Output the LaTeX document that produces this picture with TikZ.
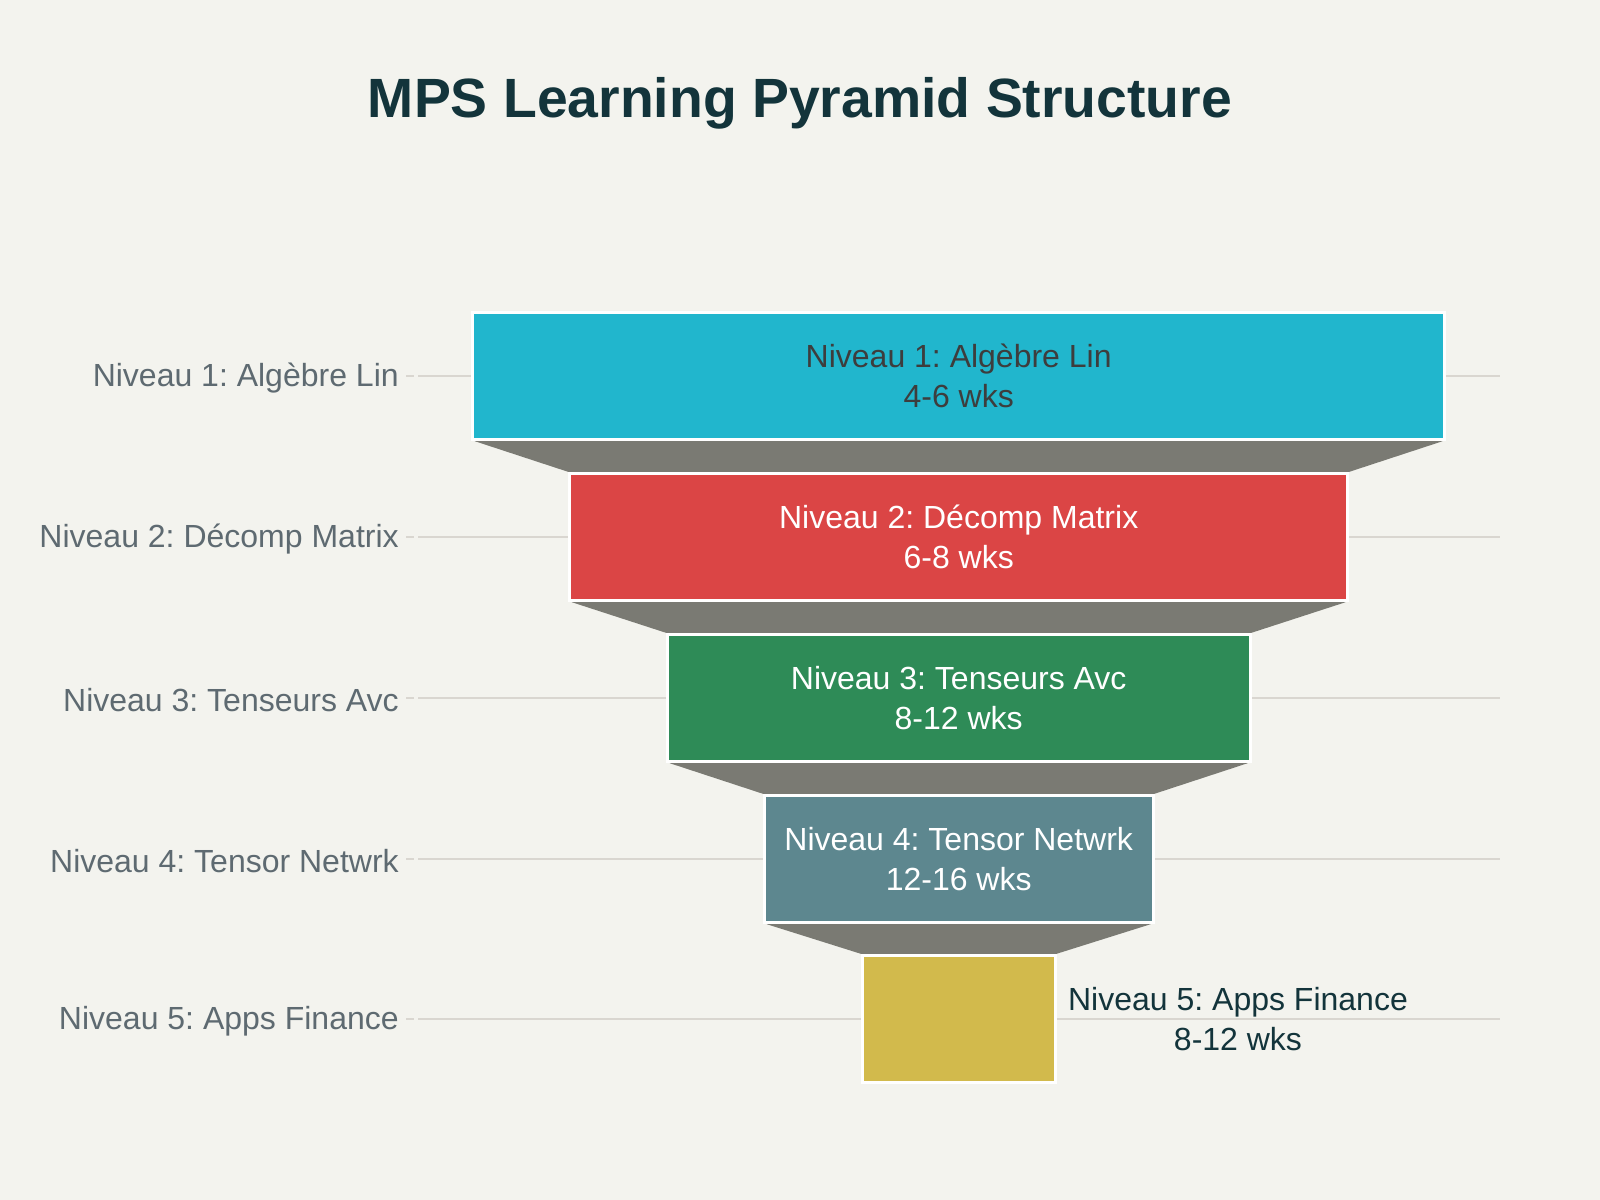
\documentclass[tikz,border=0pt]{standalone}
\usepackage{fontspec}
\setmainfont{Liberation Sans}
\frenchspacing
\pgfdeclarelayer{background}
\pgfsetlayers{background,main}
\definecolor{bgc}{HTML}{F3F3EE}
\definecolor{titlec}{HTML}{13343B}
\definecolor{labc}{HTML}{5E6A71}
\definecolor{gridc}{HTML}{D9D6D0}
\definecolor{connc}{HTML}{7A7A73}
\definecolor{cA}{HTML}{21B6CD}
\definecolor{cB}{HTML}{DB4545}
\definecolor{cC}{HTML}{2E8B57}
\definecolor{cD}{HTML}{5D878F}
\definecolor{cE}{HTML}{D2BA4C}
\definecolor{darktxt}{HTML}{3D3D3D}
\tikzset{
  lvlbar/.style={draw=white, line width=2.25pt, minimum height=95.6pt, inner sep=0pt,
    align=center, font=\fontsize{24}{30}\selectfont},
  sidelab/.style={anchor=east, text=labc, inner sep=0pt, font=\fontsize{24}{30}\selectfont},
  gridln/.style={draw=gridc, line width=1.5pt},
  tickln/.style={draw=gridc, line width=1.5pt},
  conn/.style={fill=connc},
}
\begin{document}
\begin{tikzpicture}[x=0.75pt, y=-0.75pt]
\useasboundingbox (0,0) rectangle (1600,1200);

\node[font=\fontsize{41.5}{48}\selectfont\bfseries, text=titlec] (title) at (800,103) {MPS Learning Pyramid Structure};

% bars
\node[lvlbar, fill=cA, text=darktxt, minimum width=729.4pt] (b1) at (958.7,376) {Niveau 1: Algèbre Lin\\4-6 wks};
\node[lvlbar, fill=cB, text=white, minimum width=583.9pt] (b2) at (958.7,537) {Niveau 2: Décomp Matrix\\6-8 wks};
\node[lvlbar, fill=cC, text=white, minimum width=437pt] (b3) at (958.7,698) {Niveau 3: Tenseurs Avc\\8-12 wks};
\node[lvlbar, fill=cD, text=white, minimum width=291.5pt] (b4) at (958.7,859) {Niveau 4: Tensor Netwrk\\12-16 wks};
\node[lvlbar, fill=cE, minimum width=144.7pt] (b5) at (958.7,1019) {};
\node[align=center, text=titlec, inner sep=0pt, font=\fontsize{24}{30}\selectfont] (b5t) at (1238,1019) {Niveau 5: Apps Finance\\8-12 wks};

% side labels
\node[sidelab] (l1) at (399,378) {Niveau 1: Algèbre Lin};
\node[sidelab] (l2) at (399,539) {Niveau 2: Décomp Matrix};
\node[sidelab] (l3) at (399,700) {Niveau 3: Tenseurs Avc};
\node[sidelab] (l4) at (399,861) {Niveau 4: Tensor Netwrk};
\node[sidelab] (l5) at (399,1021) {Niveau 5: Apps Finance};

\foreach \i/\y in {1/376,2/537,3/698,4/859,5/1019}{
  \coordinate (ta\i) at (406,\y);
  \coordinate (tb\i) at (414,\y);
  \coordinate (ga\i) at (418,\y);
  \coordinate (gb\i) at (1500,\y);
}

\begin{pgfonlayer}{background}
\fill[bgc] (0,0) rectangle (1600,1200);
\foreach \i in {1,...,5}{
  \draw[tickln] (ta\i) -- (tb\i);
  \draw[gridln] (ga\i) -- (gb\i);
}
\foreach \a/\b in {b1/b2,b2/b3,b3/b4,b4/b5}{
  \fill[conn] ([xshift=3pt]\a.south west) -- ([xshift=-3pt]\a.south east) -- (\b.north east) -- (\b.north west) -- cycle;
}
\end{pgfonlayer}
\end{tikzpicture}
\end{document}
